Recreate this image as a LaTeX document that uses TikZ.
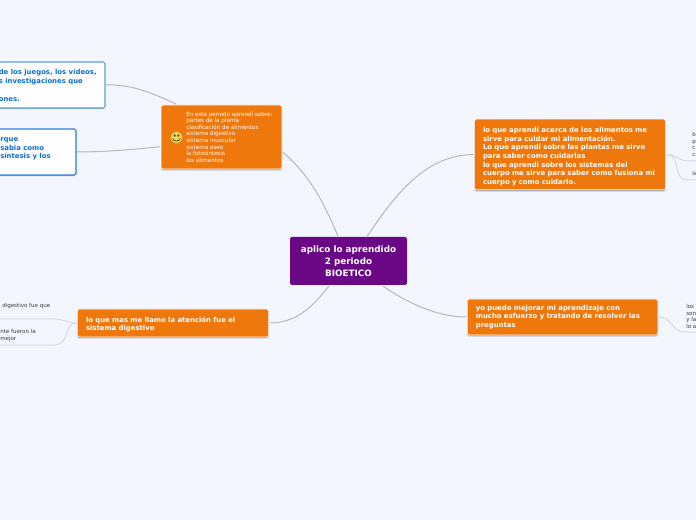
\documentclass[tikz,border=0pt]{standalone}
\usepackage{fontspec}
\setmainfont{DejaVu Sans}
\usetikzlibrary{shadows}
\definecolor{bgc}{HTML}{F3F6FF}
\definecolor{orangec}{HTML}{EF780C}
\definecolor{purplec}{HTML}{6A0785}
\definecolor{linec}{HTML}{B5B8C2}
\definecolor{leafc}{HTML}{D5D9E8}
\definecolor{bluec}{HTML}{0A6FD6}
\definecolor{edgea}{HTML}{5A9FE8}
\definecolor{edgeb}{HTML}{2A7DDD}
\definecolor{smalltext}{HTML}{3A3A44}
\definecolor{smileyc}{HTML}{F7D44A}
\definecolor{smileye}{HTML}{C9962A}
\tikzset{
  x=0.75pt,y=-0.75pt,
  boxbase/.style={rectangle,rounded corners=1.2pt,inner ysep=0pt,outer sep=0.7pt,anchor=center},
  orangebox/.style={boxbase,fill=orangec,draw=white,line width=0.5pt,text=white,font=\bfseries\fontsize{5.17pt}{6.5pt}\selectfont,align=left,inner xsep=6.5pt,
    drop shadow={shadow xshift=0pt,shadow yshift=-1.1pt,fill=black,opacity=.33}},
  topicbox/.style={boxbase,fill=orangec,draw=white,line width=0.5pt,
    drop shadow={shadow xshift=0pt,shadow yshift=-1.1pt,fill=black,opacity=.33}},
  topictext/.style={text=white,font=\fontsize{4.2pt}{4.95pt}\selectfont,align=left,inner sep=0pt},
  centralbox/.style={boxbase,fill=purplec,text=white,font=\bfseries\fontsize{6.6pt}{9.2pt}\selectfont,align=center,
    minimum width=87.75pt,minimum height=36pt},
  whitebox/.style={boxbase,fill=white,line width=0.8pt,drop shadow={shadow xshift=0pt,shadow yshift=-0.8pt,fill=black,opacity=.25}},
  bluetext/.style={text=bluec,font=\bfseries\fontsize{5.17pt}{6.7pt}\selectfont,align=left,inner sep=0pt,anchor=north west},
  smalltxt/.style={text=smalltext,font=\fontsize{4.15pt}{4.9pt}\selectfont,align=left,inner sep=0pt,anchor=north west},
  conn/.style={draw=linec,line width=0.75pt},
  leaf/.style={draw=leafc,line width=0.75pt},
}
\begin{document}
\begin{tikzpicture}
\fill[bgc] (0,0) rectangle (696,520);
\useasboundingbox (0,0) rectangle (696,520);
\clip (0,0) rectangle (696,520);

\node[centralbox] (central) at (348.5,261) {aplico lo aprendido\\2 periodo\\BIOETICO};

\node[topicbox,minimum width=90.75pt,minimum height=48pt] (topic) at (221.5,137) {};
\node[topictext,anchor=west] (topictxt) at (186,137)
  {En este periodo aprendí sobre:\\partes de la planta\\clasificación de alimentos\\sistema digestivo\\sistema muscular\\sistema oseo\\la fotosíntesis\\los alimentos};

\node[orangebox,minimum height=53pt,text width=130.5pt] (right) at (570,154.5)
  {\rule{0pt}{7pt}lo que aprendí acerca de los alimentos me\\sirve para cuidar mi alimentación.\\Lo que aprendí sobre las plantas me sirve\\para saber como cuidarlas\\lo que aprendí sobre los sistemas del\\cuerpo me sirve para saber como fusiona mi\\cuerpo y como cuidarlo.};

\node[orangebox,minimum height=21pt,text width=130.5pt] (bleft) at (173,323)
  {\rule{0pt}{6.4pt}lo que mas me llamo la atención fue el\\sistema digestivo};

\node[orangebox,minimum height=27pt,text width=130pt] (bright) at (562.5,317)
  {yo puedo mejorar mi aprendizaje con\\mucho esfuerzo y tratando de resolver las\\preguntas};

\node[whitebox,draw=edgea,minimum width=123.75pt,minimum height=34.5pt] (white1) at (22.5,85) {};
\node[whitebox,draw=edgeb,minimum width=102pt,minimum height=34.5pt] (white2) at (8,152) {};
\node[bluetext] (wt1) at (-1.5,68.5) {de los juegos, los vídeos,\\s investigaciones que\\\\ones.};
\node[bluetext] (wt2) at (0,137) {rque\\sabia como\\síntesis y los};

% smiley
\node[circle,fill=smileyc,draw=smileye,line width=0.4pt,minimum size=8.8pt,inner sep=0pt] (smile) at (176.5,137.5) {};
\fill[black!80] (174.7,135.5) ellipse (0.9 and 1.4) (178.3,135.5) ellipse (0.9 and 1.4);
\draw[black!80,line width=0.5pt] (172.7,138.5) .. controls (174,142) and (179,142) .. (180.3,138.5);

% connectors
\draw[conn] (central.113.6) .. controls (325,205) and (310,175) .. (topic.-14.8);
\draw[conn] (central.53.9) .. controls (395,195) and (425,155) .. (right.west);
\draw[conn] (central.232.4) .. controls (312,308) and (295,323) .. (bleft.east);
\draw[conn] (central.-36.4) .. controls (410,305) and (440,317) .. (bright.west);
\draw[conn] (topic.144.3) .. controls (150,92) and (130,84) .. (white1.east);
\draw[conn] (topic.189.4) .. controls (130,150) and (100,152) .. (white2.east);

% leaves
\coordinate (r1) at (696,161);
\coordinate (r2) at (696,180);
\coordinate (br1) at (696,332);
\coordinate (l1) at (0,319);
\coordinate (l2) at (0,345);
\draw[leaf] (right.east) .. controls (676,154) and (678,161) .. (688,161) -- (r1);
\draw[leaf] (right.east) .. controls (680,154) and (674,180) .. (686,180) -- (r2);
\draw[leaf] (bright.east) .. controls (672,317) and (672,332) .. (684,332) -- (br1);
\draw[leaf] (bleft.west) .. controls (68,323) and (64,319) .. (54,319) -- (l1);
\draw[leaf] (bleft.west) .. controls (64,323) and (70,345) .. (54,345) -- (l2);

% cut-off leaf texts
\node[smalltxt] (tr1) at (692,132) {b\\p\\c\\c};
\node[smalltxt] (tr2) at (692,171) {la};
\node[smalltxt] (tb1) at (686,304) {los\\son\\y la\\lo a};
\node[smalltxt] (tl1) at (2,303) {digestivo fue que};
\node[smalltxt] (tl2) at (0,329) {nte fueron la\\mejor};
\end{tikzpicture}
\end{document}
